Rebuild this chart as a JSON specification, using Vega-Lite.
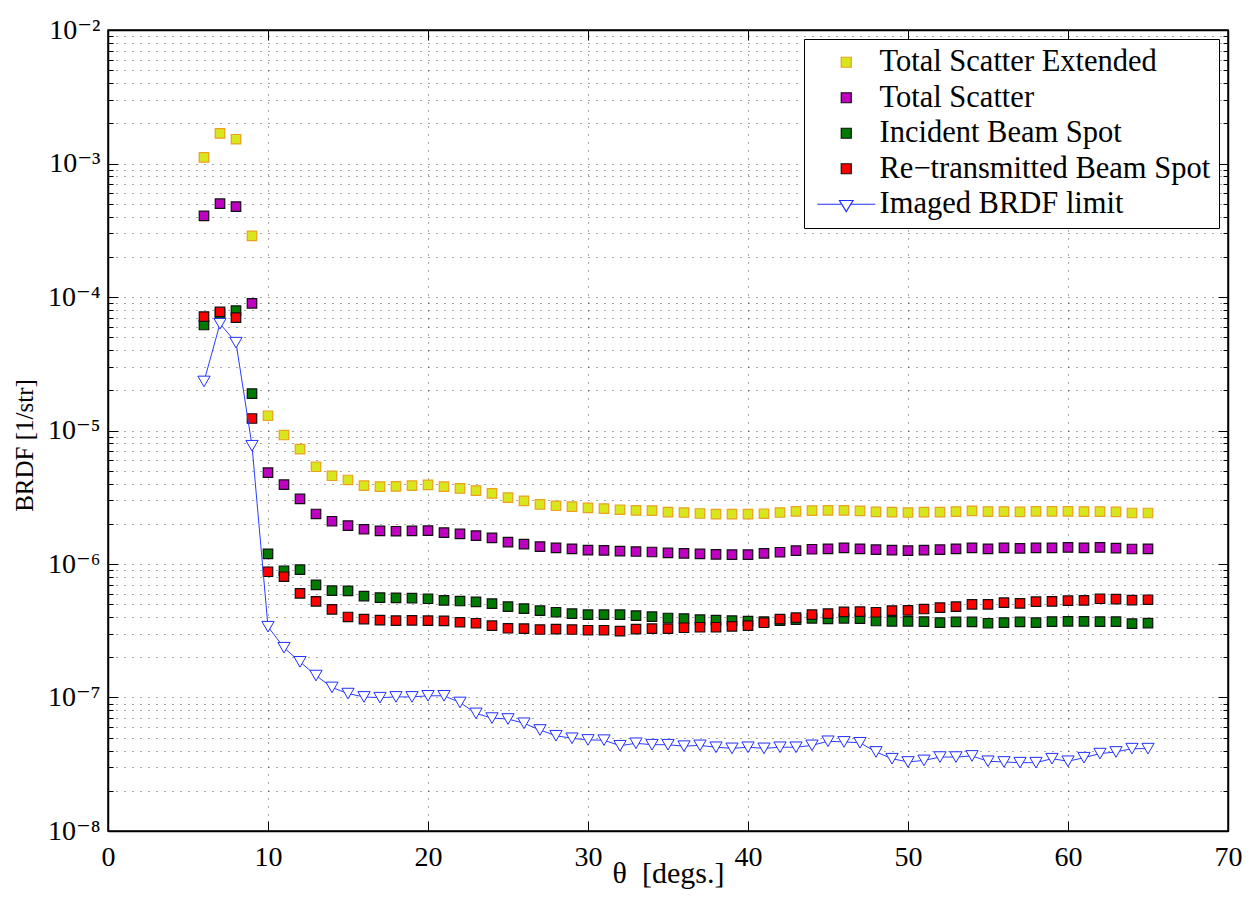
{
  "$schema": "https://vega.github.io/schema/vega-lite/v6.json",
  "width": 1120,
  "height": 801,
  "autosize": {"type": "none"},
  "padding": {"left": 108, "top": 30, "right": 25, "bottom": 71},
  "background": "white",
  "config": {
    "font": "Times New Roman, Liberation Serif, DejaVu Serif, serif",
    "view": {"stroke": "black", "strokeWidth": 1.5},
    "axis": {
      "domainColor": "black",
      "domainWidth": 1.5,
      "tickColor": "black",
      "tickWidth": 1,
      "labelColor": "black",
      "labelFont": "Times New Roman, Liberation Serif, DejaVu Serif, serif",
      "titleFont": "Times New Roman, Liberation Serif, DejaVu Serif, serif",
      "titleColor": "black",
      "titleFontWeight": "normal",
      "gridColor": "#000000",
      "gridOpacity": 0.7,
      "gridWidth": 1,
      "gridDash": [1, 7]
    }
  },
  "data": {
    "values": [
      {"t": 6, "v": 1.11e-3, "s": "Total Scatter Extended"},
      {"t": 7, "v": 1.68e-3, "s": "Total Scatter Extended"},
      {"t": 8, "v": 1.52e-3, "s": "Total Scatter Extended"},
      {"t": 9, "v": 2.87e-4, "s": "Total Scatter Extended"},
      {"t": 10, "v": 1.29e-5, "s": "Total Scatter Extended"},
      {"t": 11, "v": 9.25e-6, "s": "Total Scatter Extended"},
      {"t": 12, "v": 7.26e-6, "s": "Total Scatter Extended"},
      {"t": 13, "v": 5.35e-6, "s": "Total Scatter Extended"},
      {"t": 14, "v": 4.58e-6, "s": "Total Scatter Extended"},
      {"t": 15, "v": 4.26e-6, "s": "Total Scatter Extended"},
      {"t": 16, "v": 3.86e-6, "s": "Total Scatter Extended"},
      {"t": 17, "v": 3.80e-6, "s": "Total Scatter Extended"},
      {"t": 18, "v": 3.81e-6, "s": "Total Scatter Extended"},
      {"t": 19, "v": 3.86e-6, "s": "Total Scatter Extended"},
      {"t": 20, "v": 3.91e-6, "s": "Total Scatter Extended"},
      {"t": 21, "v": 3.80e-6, "s": "Total Scatter Extended"},
      {"t": 22, "v": 3.69e-6, "s": "Total Scatter Extended"},
      {"t": 23, "v": 3.55e-6, "s": "Total Scatter Extended"},
      {"t": 24, "v": 3.38e-6, "s": "Total Scatter Extended"},
      {"t": 25, "v": 3.14e-6, "s": "Total Scatter Extended"},
      {"t": 26, "v": 2.97e-6, "s": "Total Scatter Extended"},
      {"t": 27, "v": 2.80e-6, "s": "Total Scatter Extended"},
      {"t": 28, "v": 2.73e-6, "s": "Total Scatter Extended"},
      {"t": 29, "v": 2.69e-6, "s": "Total Scatter Extended"},
      {"t": 30, "v": 2.63e-6, "s": "Total Scatter Extended"},
      {"t": 31, "v": 2.60e-6, "s": "Total Scatter Extended"},
      {"t": 32, "v": 2.55e-6, "s": "Total Scatter Extended"},
      {"t": 33, "v": 2.52e-6, "s": "Total Scatter Extended"},
      {"t": 34, "v": 2.51e-6, "s": "Total Scatter Extended"},
      {"t": 35, "v": 2.45e-6, "s": "Total Scatter Extended"},
      {"t": 36, "v": 2.43e-6, "s": "Total Scatter Extended"},
      {"t": 37, "v": 2.39e-6, "s": "Total Scatter Extended"},
      {"t": 38, "v": 2.36e-6, "s": "Total Scatter Extended"},
      {"t": 39, "v": 2.36e-6, "s": "Total Scatter Extended"},
      {"t": 40, "v": 2.36e-6, "s": "Total Scatter Extended"},
      {"t": 41, "v": 2.38e-6, "s": "Total Scatter Extended"},
      {"t": 42, "v": 2.43e-6, "s": "Total Scatter Extended"},
      {"t": 43, "v": 2.48e-6, "s": "Total Scatter Extended"},
      {"t": 44, "v": 2.51e-6, "s": "Total Scatter Extended"},
      {"t": 45, "v": 2.52e-6, "s": "Total Scatter Extended"},
      {"t": 46, "v": 2.52e-6, "s": "Total Scatter Extended"},
      {"t": 47, "v": 2.50e-6, "s": "Total Scatter Extended"},
      {"t": 48, "v": 2.455e-6, "s": "Total Scatter Extended"},
      {"t": 49, "v": 2.45e-6, "s": "Total Scatter Extended"},
      {"t": 50, "v": 2.43e-6, "s": "Total Scatter Extended"},
      {"t": 51, "v": 2.45e-6, "s": "Total Scatter Extended"},
      {"t": 52, "v": 2.45e-6, "s": "Total Scatter Extended"},
      {"t": 53, "v": 2.47e-6, "s": "Total Scatter Extended"},
      {"t": 54, "v": 2.50e-6, "s": "Total Scatter Extended"},
      {"t": 55, "v": 2.47e-6, "s": "Total Scatter Extended"},
      {"t": 56, "v": 2.47e-6, "s": "Total Scatter Extended"},
      {"t": 57, "v": 2.455e-6, "s": "Total Scatter Extended"},
      {"t": 58, "v": 2.48e-6, "s": "Total Scatter Extended"},
      {"t": 59, "v": 2.48e-6, "s": "Total Scatter Extended"},
      {"t": 60, "v": 2.48e-6, "s": "Total Scatter Extended"},
      {"t": 61, "v": 2.47e-6, "s": "Total Scatter Extended"},
      {"t": 62, "v": 2.47e-6, "s": "Total Scatter Extended"},
      {"t": 63, "v": 2.455e-6, "s": "Total Scatter Extended"},
      {"t": 64, "v": 2.41e-6, "s": "Total Scatter Extended"},
      {"t": 65, "v": 2.41e-6, "s": "Total Scatter Extended"},

      {"t": 6, "v": 4.05e-4, "s": "Total Scatter"},
      {"t": 7, "v": 5.0e-4, "s": "Total Scatter"},
      {"t": 8, "v": 4.75e-4, "s": "Total Scatter"},
      {"t": 9, "v": 8.97e-5, "s": "Total Scatter"},
      {"t": 10, "v": 4.83e-6, "s": "Total Scatter"},
      {"t": 11, "v": 3.93e-6, "s": "Total Scatter"},
      {"t": 12, "v": 3.07e-6, "s": "Total Scatter"},
      {"t": 13, "v": 2.37e-6, "s": "Total Scatter"},
      {"t": 14, "v": 2.09e-6, "s": "Total Scatter"},
      {"t": 15, "v": 1.94e-6, "s": "Total Scatter"},
      {"t": 16, "v": 1.82e-6, "s": "Total Scatter"},
      {"t": 17, "v": 1.77e-6, "s": "Total Scatter"},
      {"t": 18, "v": 1.76e-6, "s": "Total Scatter"},
      {"t": 19, "v": 1.77e-6, "s": "Total Scatter"},
      {"t": 20, "v": 1.78e-6, "s": "Total Scatter"},
      {"t": 21, "v": 1.72e-6, "s": "Total Scatter"},
      {"t": 22, "v": 1.68e-6, "s": "Total Scatter"},
      {"t": 23, "v": 1.63e-6, "s": "Total Scatter"},
      {"t": 24, "v": 1.57e-6, "s": "Total Scatter"},
      {"t": 25, "v": 1.46e-6, "s": "Total Scatter"},
      {"t": 26, "v": 1.41e-6, "s": "Total Scatter"},
      {"t": 27, "v": 1.35e-6, "s": "Total Scatter"},
      {"t": 28, "v": 1.32e-6, "s": "Total Scatter"},
      {"t": 29, "v": 1.30e-6, "s": "Total Scatter"},
      {"t": 30, "v": 1.27e-6, "s": "Total Scatter"},
      {"t": 31, "v": 1.265e-6, "s": "Total Scatter"},
      {"t": 32, "v": 1.25e-6, "s": "Total Scatter"},
      {"t": 33, "v": 1.24e-6, "s": "Total Scatter"},
      {"t": 34, "v": 1.23e-6, "s": "Total Scatter"},
      {"t": 35, "v": 1.21e-6, "s": "Total Scatter"},
      {"t": 36, "v": 1.20e-6, "s": "Total Scatter"},
      {"t": 37, "v": 1.19e-6, "s": "Total Scatter"},
      {"t": 38, "v": 1.18e-6, "s": "Total Scatter"},
      {"t": 39, "v": 1.175e-6, "s": "Total Scatter"},
      {"t": 40, "v": 1.175e-6, "s": "Total Scatter"},
      {"t": 41, "v": 1.20e-6, "s": "Total Scatter"},
      {"t": 42, "v": 1.225e-6, "s": "Total Scatter"},
      {"t": 43, "v": 1.26e-6, "s": "Total Scatter"},
      {"t": 44, "v": 1.29e-6, "s": "Total Scatter"},
      {"t": 45, "v": 1.30e-6, "s": "Total Scatter"},
      {"t": 46, "v": 1.32e-6, "s": "Total Scatter"},
      {"t": 47, "v": 1.30e-6, "s": "Total Scatter"},
      {"t": 48, "v": 1.28e-6, "s": "Total Scatter"},
      {"t": 49, "v": 1.27e-6, "s": "Total Scatter"},
      {"t": 50, "v": 1.26e-6, "s": "Total Scatter"},
      {"t": 51, "v": 1.27e-6, "s": "Total Scatter"},
      {"t": 52, "v": 1.28e-6, "s": "Total Scatter"},
      {"t": 53, "v": 1.30e-6, "s": "Total Scatter"},
      {"t": 54, "v": 1.32e-6, "s": "Total Scatter"},
      {"t": 55, "v": 1.30e-6, "s": "Total Scatter"},
      {"t": 56, "v": 1.32e-6, "s": "Total Scatter"},
      {"t": 57, "v": 1.31e-6, "s": "Total Scatter"},
      {"t": 58, "v": 1.32e-6, "s": "Total Scatter"},
      {"t": 59, "v": 1.32e-6, "s": "Total Scatter"},
      {"t": 60, "v": 1.33e-6, "s": "Total Scatter"},
      {"t": 61, "v": 1.32e-6, "s": "Total Scatter"},
      {"t": 62, "v": 1.33e-6, "s": "Total Scatter"},
      {"t": 63, "v": 1.315e-6, "s": "Total Scatter"},
      {"t": 64, "v": 1.295e-6, "s": "Total Scatter"},
      {"t": 65, "v": 1.30e-6, "s": "Total Scatter"},

      {"t": 6, "v": 6.17e-5, "s": "Incident Beam Spot"},
      {"t": 7, "v": 7.5e-5, "s": "Incident Beam Spot"},
      {"t": 8, "v": 7.9e-5, "s": "Incident Beam Spot"},
      {"t": 9, "v": 1.89e-5, "s": "Incident Beam Spot"},
      {"t": 10, "v": 1.19e-6, "s": "Incident Beam Spot"},
      {"t": 11, "v": 8.9e-7, "s": "Incident Beam Spot"},
      {"t": 12, "v": 9.07e-7, "s": "Incident Beam Spot"},
      {"t": 13, "v": 6.97e-7, "s": "Incident Beam Spot"},
      {"t": 14, "v": 6.31e-7, "s": "Incident Beam Spot"},
      {"t": 15, "v": 6.29e-7, "s": "Incident Beam Spot"},
      {"t": 16, "v": 5.75e-7, "s": "Incident Beam Spot"},
      {"t": 17, "v": 5.6e-7, "s": "Incident Beam Spot"},
      {"t": 18, "v": 5.58e-7, "s": "Incident Beam Spot"},
      {"t": 19, "v": 5.56e-7, "s": "Incident Beam Spot"},
      {"t": 20, "v": 5.49e-7, "s": "Incident Beam Spot"},
      {"t": 21, "v": 5.34e-7, "s": "Incident Beam Spot"},
      {"t": 22, "v": 5.28e-7, "s": "Incident Beam Spot"},
      {"t": 23, "v": 5.21e-7, "s": "Incident Beam Spot"},
      {"t": 24, "v": 5.05e-7, "s": "Incident Beam Spot"},
      {"t": 25, "v": 4.79e-7, "s": "Incident Beam Spot"},
      {"t": 26, "v": 4.63e-7, "s": "Incident Beam Spot"},
      {"t": 27, "v": 4.47e-7, "s": "Incident Beam Spot"},
      {"t": 28, "v": 4.35e-7, "s": "Incident Beam Spot"},
      {"t": 29, "v": 4.25e-7, "s": "Incident Beam Spot"},
      {"t": 30, "v": 4.17e-7, "s": "Incident Beam Spot"},
      {"t": 31, "v": 4.17e-7, "s": "Incident Beam Spot"},
      {"t": 32, "v": 4.17e-7, "s": "Incident Beam Spot"},
      {"t": 33, "v": 4.11e-7, "s": "Incident Beam Spot"},
      {"t": 34, "v": 4.03e-7, "s": "Incident Beam Spot"},
      {"t": 35, "v": 3.94e-7, "s": "Incident Beam Spot"},
      {"t": 36, "v": 3.90e-7, "s": "Incident Beam Spot"},
      {"t": 37, "v": 3.83e-7, "s": "Incident Beam Spot"},
      {"t": 38, "v": 3.80e-7, "s": "Incident Beam Spot"},
      {"t": 39, "v": 3.77e-7, "s": "Incident Beam Spot"},
      {"t": 40, "v": 3.74e-7, "s": "Incident Beam Spot"},
      {"t": 41, "v": 3.70e-7, "s": "Incident Beam Spot"},
      {"t": 42, "v": 3.77e-7, "s": "Incident Beam Spot"},
      {"t": 43, "v": 3.83e-7, "s": "Incident Beam Spot"},
      {"t": 44, "v": 3.92e-7, "s": "Incident Beam Spot"},
      {"t": 45, "v": 3.88e-7, "s": "Incident Beam Spot"},
      {"t": 46, "v": 3.92e-7, "s": "Incident Beam Spot"},
      {"t": 47, "v": 3.90e-7, "s": "Incident Beam Spot"},
      {"t": 48, "v": 3.74e-7, "s": "Incident Beam Spot"},
      {"t": 49, "v": 3.72e-7, "s": "Incident Beam Spot"},
      {"t": 50, "v": 3.72e-7, "s": "Incident Beam Spot"},
      {"t": 51, "v": 3.70e-7, "s": "Incident Beam Spot"},
      {"t": 52, "v": 3.64e-7, "s": "Incident Beam Spot"},
      {"t": 53, "v": 3.68e-7, "s": "Incident Beam Spot"},
      {"t": 54, "v": 3.68e-7, "s": "Incident Beam Spot"},
      {"t": 55, "v": 3.60e-7, "s": "Incident Beam Spot"},
      {"t": 56, "v": 3.64e-7, "s": "Incident Beam Spot"},
      {"t": 57, "v": 3.68e-7, "s": "Incident Beam Spot"},
      {"t": 58, "v": 3.64e-7, "s": "Incident Beam Spot"},
      {"t": 59, "v": 3.70e-7, "s": "Incident Beam Spot"},
      {"t": 60, "v": 3.72e-7, "s": "Incident Beam Spot"},
      {"t": 61, "v": 3.72e-7, "s": "Incident Beam Spot"},
      {"t": 62, "v": 3.70e-7, "s": "Incident Beam Spot"},
      {"t": 63, "v": 3.70e-7, "s": "Incident Beam Spot"},
      {"t": 64, "v": 3.58e-7, "s": "Incident Beam Spot"},
      {"t": 65, "v": 3.61e-7, "s": "Incident Beam Spot"},

      {"t": 6, "v": 7.13e-5, "s": "Re−transmitted Beam Spot"},
      {"t": 7, "v": 7.73e-5, "s": "Re−transmitted Beam Spot"},
      {"t": 8, "v": 7.0e-5, "s": "Re−transmitted Beam Spot"},
      {"t": 9, "v": 1.23e-5, "s": "Re−transmitted Beam Spot"},
      {"t": 10, "v": 8.75e-7, "s": "Re−transmitted Beam Spot"},
      {"t": 11, "v": 8.03e-7, "s": "Re−transmitted Beam Spot"},
      {"t": 12, "v": 6.03e-7, "s": "Re−transmitted Beam Spot"},
      {"t": 13, "v": 5.25e-7, "s": "Re−transmitted Beam Spot"},
      {"t": 14, "v": 4.57e-7, "s": "Re−transmitted Beam Spot"},
      {"t": 15, "v": 4.01e-7, "s": "Re−transmitted Beam Spot"},
      {"t": 16, "v": 3.87e-7, "s": "Re−transmitted Beam Spot"},
      {"t": 17, "v": 3.80e-7, "s": "Re−transmitted Beam Spot"},
      {"t": 18, "v": 3.77e-7, "s": "Re−transmitted Beam Spot"},
      {"t": 19, "v": 3.78e-7, "s": "Re−transmitted Beam Spot"},
      {"t": 20, "v": 3.76e-7, "s": "Re−transmitted Beam Spot"},
      {"t": 21, "v": 3.75e-7, "s": "Re−transmitted Beam Spot"},
      {"t": 22, "v": 3.66e-7, "s": "Re−transmitted Beam Spot"},
      {"t": 23, "v": 3.60e-7, "s": "Re−transmitted Beam Spot"},
      {"t": 24, "v": 3.45e-7, "s": "Re−transmitted Beam Spot"},
      {"t": 25, "v": 3.30e-7, "s": "Re−transmitted Beam Spot"},
      {"t": 26, "v": 3.28e-7, "s": "Re−transmitted Beam Spot"},
      {"t": 27, "v": 3.23e-7, "s": "Re−transmitted Beam Spot"},
      {"t": 28, "v": 3.25e-7, "s": "Re−transmitted Beam Spot"},
      {"t": 29, "v": 3.23e-7, "s": "Re−transmitted Beam Spot"},
      {"t": 30, "v": 3.19e-7, "s": "Re−transmitted Beam Spot"},
      {"t": 31, "v": 3.19e-7, "s": "Re−transmitted Beam Spot"},
      {"t": 32, "v": 3.14e-7, "s": "Re−transmitted Beam Spot"},
      {"t": 33, "v": 3.25e-7, "s": "Re−transmitted Beam Spot"},
      {"t": 34, "v": 3.28e-7, "s": "Re−transmitted Beam Spot"},
      {"t": 35, "v": 3.28e-7, "s": "Re−transmitted Beam Spot"},
      {"t": 36, "v": 3.33e-7, "s": "Re−transmitted Beam Spot"},
      {"t": 37, "v": 3.36e-7, "s": "Re−transmitted Beam Spot"},
      {"t": 38, "v": 3.36e-7, "s": "Re−transmitted Beam Spot"},
      {"t": 39, "v": 3.41e-7, "s": "Re−transmitted Beam Spot"},
      {"t": 40, "v": 3.45e-7, "s": "Re−transmitted Beam Spot"},
      {"t": 41, "v": 3.63e-7, "s": "Re−transmitted Beam Spot"},
      {"t": 42, "v": 3.87e-7, "s": "Re−transmitted Beam Spot"},
      {"t": 43, "v": 3.96e-7, "s": "Re−transmitted Beam Spot"},
      {"t": 44, "v": 4.18e-7, "s": "Re−transmitted Beam Spot"},
      {"t": 45, "v": 4.25e-7, "s": "Re−transmitted Beam Spot"},
      {"t": 46, "v": 4.38e-7, "s": "Re−transmitted Beam Spot"},
      {"t": 47, "v": 4.40e-7, "s": "Re−transmitted Beam Spot"},
      {"t": 48, "v": 4.35e-7, "s": "Re−transmitted Beam Spot"},
      {"t": 49, "v": 4.48e-7, "s": "Re−transmitted Beam Spot"},
      {"t": 50, "v": 4.50e-7, "s": "Re−transmitted Beam Spot"},
      {"t": 51, "v": 4.60e-7, "s": "Re−transmitted Beam Spot"},
      {"t": 52, "v": 4.71e-7, "s": "Re−transmitted Beam Spot"},
      {"t": 53, "v": 4.79e-7, "s": "Re−transmitted Beam Spot"},
      {"t": 54, "v": 4.99e-7, "s": "Re−transmitted Beam Spot"},
      {"t": 55, "v": 4.99e-7, "s": "Re−transmitted Beam Spot"},
      {"t": 56, "v": 5.13e-7, "s": "Re−transmitted Beam Spot"},
      {"t": 57, "v": 5.07e-7, "s": "Re−transmitted Beam Spot"},
      {"t": 58, "v": 5.22e-7, "s": "Re−transmitted Beam Spot"},
      {"t": 59, "v": 5.25e-7, "s": "Re−transmitted Beam Spot"},
      {"t": 60, "v": 5.31e-7, "s": "Re−transmitted Beam Spot"},
      {"t": 61, "v": 5.34e-7, "s": "Re−transmitted Beam Spot"},
      {"t": 62, "v": 5.49e-7, "s": "Re−transmitted Beam Spot"},
      {"t": 63, "v": 5.46e-7, "s": "Re−transmitted Beam Spot"},
      {"t": 64, "v": 5.37e-7, "s": "Re−transmitted Beam Spot"},
      {"t": 65, "v": 5.40e-7, "s": "Re−transmitted Beam Spot"},

      {"t": 6, "v": 2.33e-5, "s": "Imaged BRDF limit"},
      {"t": 7, "v": 6.31e-5, "s": "Imaged BRDF limit"},
      {"t": 8, "v": 4.55e-5, "s": "Imaged BRDF limit"},
      {"t": 9, "v": 7.69e-6, "s": "Imaged BRDF limit"},
      {"t": 10, "v": 3.39e-7, "s": "Imaged BRDF limit"},
      {"t": 11, "v": 2.36e-7, "s": "Imaged BRDF limit"},
      {"t": 12, "v": 1.85e-7, "s": "Imaged BRDF limit"},
      {"t": 13, "v": 1.46e-7, "s": "Imaged BRDF limit"},
      {"t": 14, "v": 1.19e-7, "s": "Imaged BRDF limit"},
      {"t": 15, "v": 1.07e-7, "s": "Imaged BRDF limit"},
      {"t": 16, "v": 1.01e-7, "s": "Imaged BRDF limit"},
      {"t": 17, "v": 9.97e-8, "s": "Imaged BRDF limit"},
      {"t": 18, "v": 1.01e-7, "s": "Imaged BRDF limit"},
      {"t": 19, "v": 1.01e-7, "s": "Imaged BRDF limit"},
      {"t": 20, "v": 1.03e-7, "s": "Imaged BRDF limit"},
      {"t": 21, "v": 1.03e-7, "s": "Imaged BRDF limit"},
      {"t": 22, "v": 9.18e-8, "s": "Imaged BRDF limit"},
      {"t": 23, "v": 7.60e-8, "s": "Imaged BRDF limit"},
      {"t": 24, "v": 7.01e-8, "s": "Imaged BRDF limit"},
      {"t": 25, "v": 6.90e-8, "s": "Imaged BRDF limit"},
      {"t": 26, "v": 6.41e-8, "s": "Imaged BRDF limit"},
      {"t": 27, "v": 5.71e-8, "s": "Imaged BRDF limit"},
      {"t": 28, "v": 5.17e-8, "s": "Imaged BRDF limit"},
      {"t": 29, "v": 4.95e-8, "s": "Imaged BRDF limit"},
      {"t": 30, "v": 4.81e-8, "s": "Imaged BRDF limit"},
      {"t": 31, "v": 4.79e-8, "s": "Imaged BRDF limit"},
      {"t": 32, "v": 4.35e-8, "s": "Imaged BRDF limit"},
      {"t": 33, "v": 4.54e-8, "s": "Imaged BRDF limit"},
      {"t": 34, "v": 4.43e-8, "s": "Imaged BRDF limit"},
      {"t": 35, "v": 4.43e-8, "s": "Imaged BRDF limit"},
      {"t": 36, "v": 4.32e-8, "s": "Imaged BRDF limit"},
      {"t": 37, "v": 4.38e-8, "s": "Imaged BRDF limit"},
      {"t": 38, "v": 4.24e-8, "s": "Imaged BRDF limit"},
      {"t": 39, "v": 4.16e-8, "s": "Imaged BRDF limit"},
      {"t": 40, "v": 4.24e-8, "s": "Imaged BRDF limit"},
      {"t": 41, "v": 4.16e-8, "s": "Imaged BRDF limit"},
      {"t": 42, "v": 4.24e-8, "s": "Imaged BRDF limit"},
      {"t": 43, "v": 4.24e-8, "s": "Imaged BRDF limit"},
      {"t": 44, "v": 4.38e-8, "s": "Imaged BRDF limit"},
      {"t": 45, "v": 4.70e-8, "s": "Imaged BRDF limit"},
      {"t": 46, "v": 4.65e-8, "s": "Imaged BRDF limit"},
      {"t": 47, "v": 4.58e-8, "s": "Imaged BRDF limit"},
      {"t": 48, "v": 3.91e-8, "s": "Imaged BRDF limit"},
      {"t": 49, "v": 3.48e-8, "s": "Imaged BRDF limit"},
      {"t": 50, "v": 3.29e-8, "s": "Imaged BRDF limit"},
      {"t": 51, "v": 3.38e-8, "s": "Imaged BRDF limit"},
      {"t": 52, "v": 3.58e-8, "s": "Imaged BRDF limit"},
      {"t": 53, "v": 3.58e-8, "s": "Imaged BRDF limit"},
      {"t": 54, "v": 3.65e-8, "s": "Imaged BRDF limit"},
      {"t": 55, "v": 3.33e-8, "s": "Imaged BRDF limit"},
      {"t": 56, "v": 3.29e-8, "s": "Imaged BRDF limit"},
      {"t": 57, "v": 3.25e-8, "s": "Imaged BRDF limit"},
      {"t": 58, "v": 3.25e-8, "s": "Imaged BRDF limit"},
      {"t": 59, "v": 3.48e-8, "s": "Imaged BRDF limit"},
      {"t": 60, "v": 3.33e-8, "s": "Imaged BRDF limit"},
      {"t": 61, "v": 3.54e-8, "s": "Imaged BRDF limit"},
      {"t": 62, "v": 3.80e-8, "s": "Imaged BRDF limit"},
      {"t": 63, "v": 3.91e-8, "s": "Imaged BRDF limit"},
      {"t": 64, "v": 4.14e-8, "s": "Imaged BRDF limit"},
      {"t": 65, "v": 4.14e-8, "s": "Imaged BRDF limit"}
    ]
  },
  "resolve": {"axis": {"x": "independent", "y": "independent"}},
  "layer": [
    {
      "transform": [{"filter": "datum.s !== 'Imaged BRDF limit'"}],
      "mark": {"type": "point", "filled": true, "size": 90, "strokeWidth": 1.2, "opacity": 1},
      "encoding": {
        "x": {
          "field": "t", "type": "quantitative",
          "scale": {"domain": [0, 70], "nice": false, "zero": false},
          "axis": {
            "orient": "bottom",
            "values": [0, 10, 20, 30, 40, 50, 60, 70],
            "grid": true,
            "tickSize": -10,
            "labelFontSize": 28,
            "labelBaseline": "alphabetic",
            "labelPadding": 44,
            "labelFlush": false,
            "title": "θ\u00a0\u00a0[degs.]",
            "titleFontSize": 30,
            "titleBaseline": "alphabetic",
            "titleY": 51
          }
        },
        "y": {
          "field": "v", "type": "quantitative",
          "scale": {"type": "log", "domain": [1e-8, 1e-2], "nice": false},
          "axis": {
            "orient": "left",
            "values": [1e-8, 2e-8, 3e-8, 4e-8, 5e-8, 6e-8, 7e-8, 8e-8, 9e-8,
                       1e-7, 2e-7, 3e-7, 4e-7, 5e-7, 6e-7, 7e-7, 8e-7, 9e-7,
                       1e-6, 2e-6, 3e-6, 4e-6, 5e-6, 6e-6, 7e-6, 8e-6, 9e-6,
                       1e-5, 2e-5, 3e-5, 4e-5, 5e-5, 6e-5, 7e-5, 8e-5, 9e-5,
                       1e-4, 2e-4, 3e-4, 4e-4, 5e-4, 6e-4, 7e-4, 8e-4, 9e-4,
                       1e-3, 2e-3, 3e-3, 4e-3, 5e-3, 6e-3, 7e-3, 8e-3, 9e-3, 1e-2],
            "grid": true,
            "tickSize": {"condition": {"test": "abs(log(datum.value)/LN10 - round(log(datum.value)/LN10)) < 0.01", "value": -10}, "value": -5},
            "labelExpr": "abs(log(datum.value)/LN10 - round(log(datum.value)/LN10)) < 0.01 ? '10⁻' + ['⁰','¹','²','³','⁴','⁵','⁶','⁷','⁸','⁹'][-round(log(datum.value)/LN10)] : ''",
            "labelOverlap": false,
            "labelFontSize": 28,
            "labelAlign": "right",
            "labelBaseline": "middle",
            "labelPadding": 18,
            "labelFlush": false,
            "title": "BRDF [1/str]",
            "titleFontSize": 25,
            "titleAngle": -90,
            "titleAlign": "center",
            "titleBaseline": "middle",
            "titleX": -84,
            "titleY": 415
          }
        },
        "fill": {
          "field": "s", "type": "nominal",
          "scale": {
            "domain": ["Total Scatter Extended", "Total Scatter", "Incident Beam Spot", "Re−transmitted Beam Spot", "Imaged BRDF limit"],
            "range": ["#d8e61c", "#c000c0", "#007a00", "#ff0000", "#ffffff"]
          },
          "legend": {
            "title": null,
            "orient": "top-right",
            "offset": 9,
            "strokeColor": "black",
            "fillColor": "white",
            "padding": 8,
            "labelFont": "Times New Roman, Liberation Serif, DejaVu Serif, serif",
            "labelFontSize": 30.5,
            "labelColor": "black",
            "labelLimit": 0,
            "symbolSize": 100,
            "symbolStrokeWidth": 1.2,
            "symbolOffset": 19,
            "labelOffset": 18,
            "rowPadding": 4.5
          }
        },
        "stroke": {
          "field": "s", "type": "nominal",
          "scale": {
            "domain": ["Total Scatter Extended", "Total Scatter", "Incident Beam Spot", "Re−transmitted Beam Spot", "Imaged BRDF limit"],
            "range": ["#eca020", "#111111", "#111111", "#111111", "#2030ff"]
          }
        },
        "shape": {
          "field": "s", "type": "nominal",
          "scale": {
            "domain": ["Total Scatter Extended", "Total Scatter", "Incident Beam Spot", "Re−transmitted Beam Spot", "Imaged BRDF limit"],
            "range": ["square", "square", "square", "square", "M-5.8,0H-0.9M0.9,0H5.8M-1.35,-0.75H1.35L0,1.45Z"]
          }
        }
      }
    },
    {
      "transform": [{"filter": "datum.s === 'Imaged BRDF limit'"}],
      "mark": {"type": "line", "color": "#2a3cff", "strokeWidth": 1},
      "encoding": {
        "x": {
          "field": "t", "type": "quantitative",
          "scale": {"domain": [0, 70], "nice": false, "zero": false},
          "axis": {
            "orient": "top",
            "values": [0, 10, 20, 30, 40, 50, 60, 70],
            "grid": false,
            "labels": false,
            "tickSize": -10,
            "title": null
          }
        },
        "y": {
          "field": "v", "type": "quantitative",
          "scale": {"type": "log", "domain": [1e-8, 1e-2], "nice": false},
          "axis": {
            "orient": "right",
            "values": [1e-8, 2e-8, 3e-8, 4e-8, 5e-8, 6e-8, 7e-8, 8e-8, 9e-8,
                       1e-7, 2e-7, 3e-7, 4e-7, 5e-7, 6e-7, 7e-7, 8e-7, 9e-7,
                       1e-6, 2e-6, 3e-6, 4e-6, 5e-6, 6e-6, 7e-6, 8e-6, 9e-6,
                       1e-5, 2e-5, 3e-5, 4e-5, 5e-5, 6e-5, 7e-5, 8e-5, 9e-5,
                       1e-4, 2e-4, 3e-4, 4e-4, 5e-4, 6e-4, 7e-4, 8e-4, 9e-4,
                       1e-3, 2e-3, 3e-3, 4e-3, 5e-3, 6e-3, 7e-3, 8e-3, 9e-3, 1e-2],
            "grid": false,
            "labels": false,
            "tickSize": {"condition": {"test": "abs(log(datum.value)/LN10 - round(log(datum.value)/LN10)) < 0.01", "value": -10}, "value": -5},
            "title": null
          }
        }
      }
    },
    {
      "transform": [{"filter": "datum.s === 'Imaged BRDF limit'"}],
      "mark": {"type": "point", "shape": "triangle-down", "filled": true, "fill": "white", "stroke": "#1f2fff", "strokeWidth": 1, "size": 150, "opacity": 1},
      "encoding": {
        "x": {"field": "t", "type": "quantitative", "scale": {"domain": [0, 70], "nice": false, "zero": false}, "axis": null},
        "y": {"field": "v", "type": "quantitative", "scale": {"type": "log", "domain": [1e-8, 1e-2], "nice": false}, "axis": null}
      }
    }
  ]
}
